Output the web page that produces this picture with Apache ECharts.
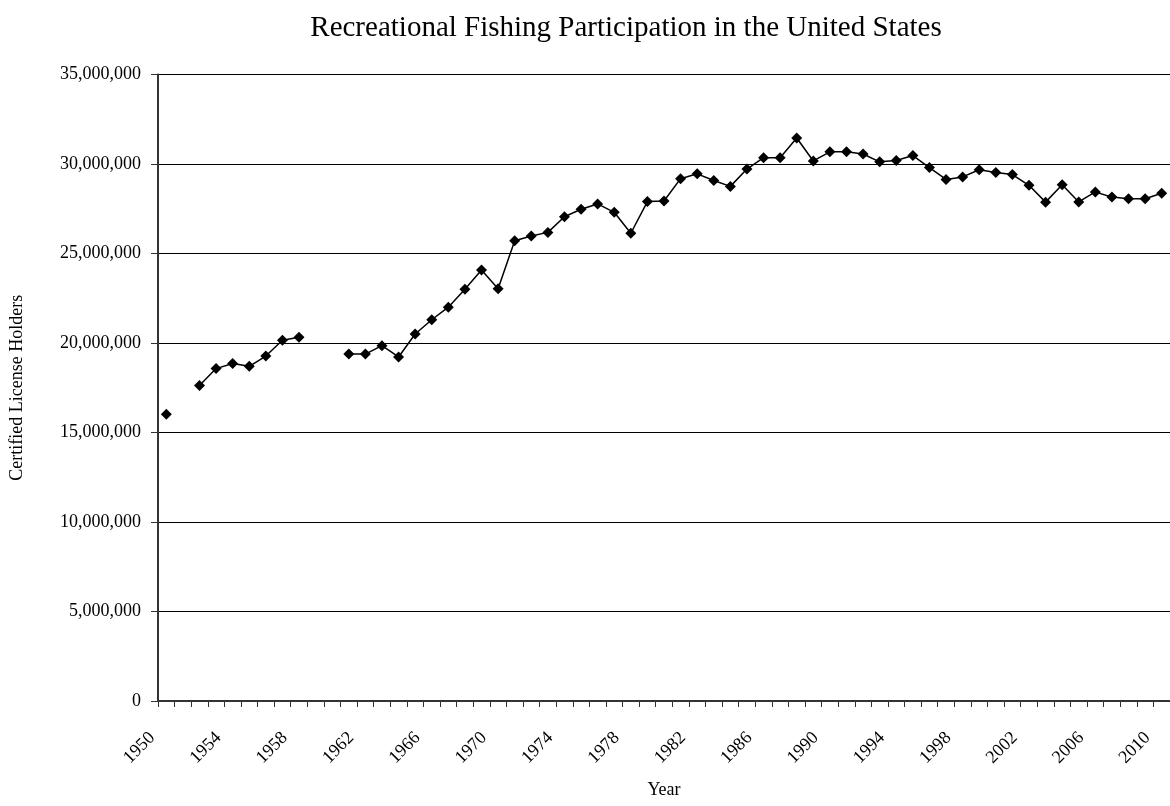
<!DOCTYPE html>
<html>
<head>
<meta charset="utf-8">
<script src="https://cdn.jsdelivr.net/npm/echarts@6/dist/echarts.min.js"></script>
<style>html,body{margin:0;padding:0;background:#fff}#c{width:1170px;height:806px}</style>
</head>
<body>
<div id="c"></div>
<script>
const years = [];
for (let y = 1950; y <= 2010; y++) years.push(String(y));

const licenseHolders = [
  16020000, null, 17630000, 18570000, 18850000, 18700000, 19270000, 20150000, 20320000, null,
  null, 19380000, 19380000, 19850000, 19220000, 20500000, 21300000, 22000000, 23000000, 24080000,
  23030000, 25710000, 25980000, 26180000, 27050000, 27470000, 27770000, 27300000, 26130000, 27900000,
  27930000, 29180000, 29450000, 29080000, 28750000, 29720000, 30350000, 30350000, 31450000, 30170000,
  30680000, 30680000, 30560000, 30120000, 30200000, 30470000, 29800000, 29140000, 29280000, 29680000,
  29530000, 29410000, 28810000, 27870000, 28840000, 27880000, 28440000, 28150000, 28060000, 28060000,
  28370000
];

const yTicks = [0, 5000000, 10000000, 15000000, 20000000, 25000000, 30000000, 35000000];

const font = '"Liberation Serif", "Times New Roman", serif';
const chart = echarts.init(document.getElementById('c'), null, {renderer: 'canvas'});
const fmt = v => String(v).replace(/\B(?=(\d{3})+(?!\d))/g, ',');

chart.setOption({
  animation: false,
  backgroundColor: '#fff',
  title: {
    text: 'Recreational Fishing Participation in the United States',
    left: 621, top: 9, textAlign: 'center',
    textStyle: {fontFamily: font, fontSize: 29, fontWeight: 'normal', color: '#000'}
  },
  grid: {left: 156, top: 74.5, bottom: 105, width: 1020.5, containLabel: false},
  xAxis: {
    type: 'category',
    data: years,
    boundaryGap: true,
    name: 'Year',
    nameLocation: 'middle',
    nameGap: 80,
    nameTextStyle: {fontFamily: font, fontSize: 18, color: '#000'},
    axisLine: {lineStyle: {color: '#333', width: 2}},
    axisTick: {show: true, interval: 0, length: 6, lineStyle: {color: '#333', width: 1}},
    axisLabel: {
      interval: 3, rotate: 45, margin: 20, padding: [0, 20, 0, 0],
      fontFamily: font, fontSize: 18, color: '#000'
    },
    splitLine: {show: false}
  },
  yAxis: {
    type: 'value',
    min: 0, max: 35000000, interval: 5000000,
    name: 'Certified License Holders',
    nameLocation: 'middle',
    nameGap: 132,
    nameTextStyle: {fontFamily: font, fontSize: 18, color: '#000'},
    axisLine: {show: true, lineStyle: {color: '#333', width: 2}},
    axisTick: {show: true, length: 7, lineStyle: {color: '#333', width: 1}},
    axisLabel: {
      margin: 17, fontFamily: font, fontSize: 18, color: '#000',
      formatter: v => yTicks.includes(v) ? fmt(v) : ''
    },
    splitLine: {show: true, lineStyle: {color: '#000', width: 1}}
  },
  series: [{
    type: 'line',
    data: licenseHolders,
    connectNulls: false,
    symbol: 'diamond',
    symbolSize: 11,
    showAllSymbol: true,
    itemStyle: {color: '#000'},
    lineStyle: {color: '#000', width: 1.5},
    clip: false
  }]
});
</script>
</body>
</html>
